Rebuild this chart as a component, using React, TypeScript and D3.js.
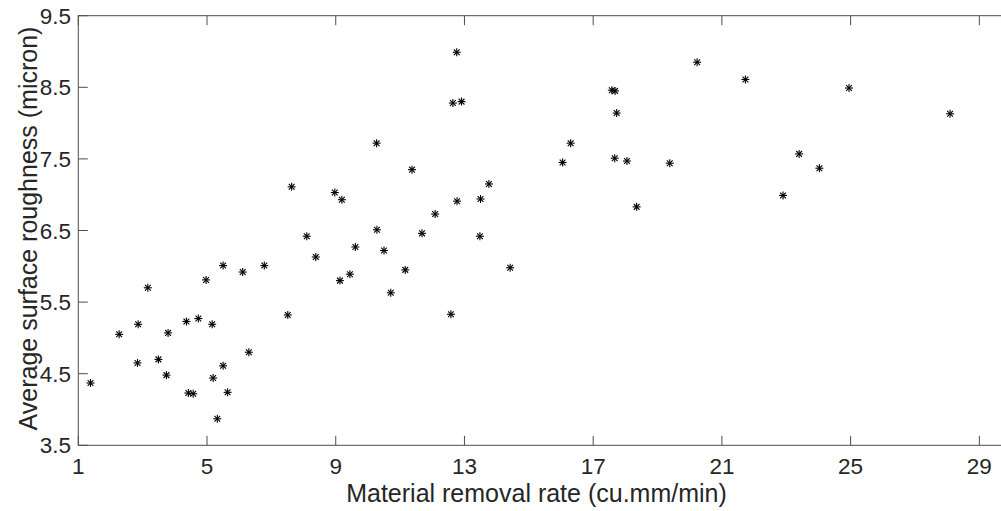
import React from "react";
import * as d3 from "d3";

const removalRate: number[] = [
  1.38, 2.27, 2.86, 3.16, 2.84, 3.49, 3.79, 3.74, 4.36, 4.73,
  4.97, 5.16, 5.5, 6.11, 4.42, 4.57, 5.19, 5.5, 5.64, 5.32,
  6.3, 6.78, 7.63, 7.51, 8.1, 8.38, 8.97, 9.19, 9.13, 9.44,
  9.61, 10.27, 10.28, 10.5, 10.71, 11.16, 11.37, 11.68, 12.09, 12.58,
  12.64, 12.76, 12.91, 12.77, 13.5, 13.76, 13.48, 14.42, 16.05, 16.3,
  17.58, 17.68, 17.73, 17.67, 18.05, 18.35, 19.38, 20.23, 21.73, 22.9,
  23.4, 24.03, 24.95, 28.09,
];
const roughness: number[] = [
  4.37, 5.05, 5.19, 5.7, 4.65, 4.7, 5.07, 4.48, 5.23, 5.27,
  5.81, 5.19, 6.01, 5.92, 4.23, 4.22, 4.44, 4.61, 4.24, 3.87,
  4.8, 6.01, 7.11, 5.32, 6.42, 6.13, 7.03, 6.93, 5.8, 5.89,
  6.27, 7.72, 6.51, 6.22, 5.63, 5.95, 7.35, 6.46, 6.73, 5.33,
  8.28, 8.99, 8.3, 6.91, 6.94, 7.15, 6.42, 5.98, 7.45, 7.72,
  8.46, 8.45, 8.14, 7.51, 7.47, 6.83, 7.44, 8.85, 8.61, 6.99,
  7.57, 7.37, 8.49, 8.13,
];
const xTicks: number[] = [1, 5, 9, 13, 17, 21, 25, 29];
const yTicks: number[] = [3.5, 4.5, 5.5, 6.5, 7.5, 8.5, 9.5];
const xDomain: [number, number] = [1, 30];
const yDomain: [number, number] = [3.5, 9.5];
const xLabel = "Material removal rate (cu.mm/min)";
const yLabel = "Average surface roughness (micron)";

const W = 1001;
const H = 511;
const left = 78.3;
const top = 15.7;
const bottom = 445.3;
const pxPerUnit = 32.18;
const right = left + (xDomain[1] - xDomain[0]) * pxPerUnit;

const axisColor = "#4d4d4d";
const textColor = "#262626";
const font = "'Liberation Sans', Arial, sans-serif";
const tickLen = 9.5;

export default function App() {
  const x = d3.scaleLinear().domain(xDomain).range([left, right]);
  const y = d3.scaleLinear().domain(yDomain).range([bottom, top]);
  const r = 4;
  const d = r * 0.72;

  return (
    <svg
      width={W}
      height={H}
      style={{ position: "absolute", left: 0, top: 0, background: "#fff" }}
    >
      <rect x={0} y={0} width={W} height={H} fill="#fff" />
      <rect
        x={left}
        y={top}
        width={right - left}
        height={bottom - top}
        fill="none"
        stroke={axisColor}
        strokeWidth={1}
      />
      {xTicks.map((t) => (
        <g key={"x" + t}>
          <line x1={x(t)} x2={x(t)} y1={bottom} y2={bottom - tickLen} stroke={axisColor} />
          <line x1={x(t)} x2={x(t)} y1={top} y2={top + tickLen} stroke={axisColor} />
          <text
            x={x(t)}
            y={473.5}
            textAnchor="middle"
            fontFamily={font}
            fontSize={22.5}
            fill={textColor}
          >
            {t}
          </text>
        </g>
      ))}
      {yTicks.map((t) => (
        <g key={"y" + t}>
          <line x1={left} x2={left + tickLen} y1={y(t)} y2={y(t)} stroke={axisColor} />
          <line x1={right} x2={right - tickLen} y1={y(t)} y2={y(t)} stroke={axisColor} />
          <text
            x={71}
            y={y(t) + 8}
            textAnchor="end"
            fontFamily={font}
            fontSize={22.5}
            fill={textColor}
          >
            {t.toFixed(1)}
          </text>
        </g>
      ))}
      <text
        x={536.5}
        y={502}
        textAnchor="middle"
        fontFamily={font}
        fontSize={25}
        fill={textColor}
      >
        {xLabel}
      </text>
      <text
        transform={`translate(37, ${(top + bottom) / 2 - 2}) rotate(-90)`}
        textAnchor="middle"
        fontFamily={font}
        fontSize={25}
        fill={textColor}
      >
        {yLabel}
      </text>
      {removalRate.map((v, i) => {
        const cx = x(v);
        const cy = y(roughness[i]);
        return (
          <g key={"p" + i} stroke="#000" strokeWidth={1.1}>
            <line x1={cx - r} x2={cx + r} y1={cy} y2={cy} />
            <line x1={cx} x2={cx} y1={cy - r} y2={cy + r} />
            <line x1={cx - d} x2={cx + d} y1={cy - d} y2={cy + d} />
            <line x1={cx - d} x2={cx + d} y1={cy + d} y2={cy - d} />
          </g>
        );
      })}
    </svg>
  );
}
